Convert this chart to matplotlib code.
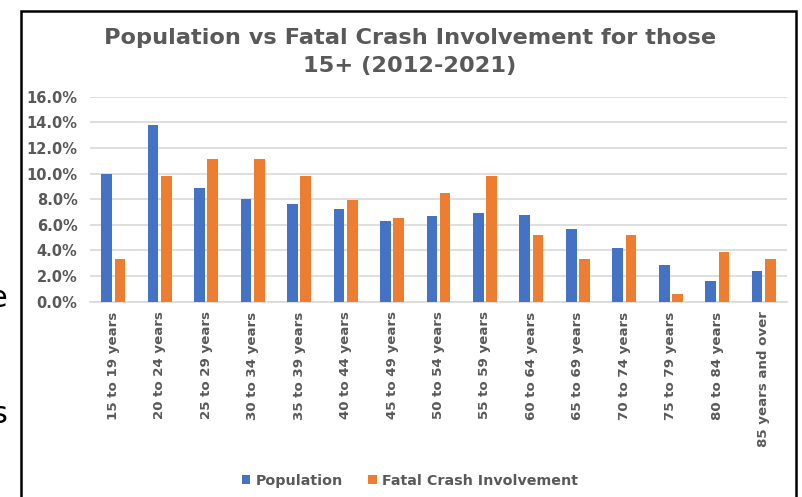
import numpy as np
import matplotlib.pyplot as plt
from matplotlib.patches import Rectangle
from matplotlib.ticker import FuncFormatter

# values (percent of total)
ages = ['15 to 19 years', '20 to 24 years', '25 to 29 years', '30 to 34 years',
        '35 to 39 years', '40 to 44 years', '45 to 49 years', '50 to 54 years',
        '55 to 59 years', '60 to 64 years', '65 to 69 years', '70 to 74 years',
        '75 to 79 years', '80 to 84 years', '85 years and over']
population = [10.0, 13.8, 8.9, 8.0, 7.6, 7.2, 6.3, 6.7, 6.9, 6.8, 5.7, 4.2, 2.9, 1.6, 2.4]
fatal = [3.3, 9.8, 11.1, 11.1, 9.8, 7.9, 6.5, 8.5, 9.8, 5.2, 3.3, 5.2, 0.6, 3.9, 3.3]

grey = '#595959'
W, H = 802, 497
fig = plt.figure(figsize=(W / 100, H / 100), dpi=100)
fig.patch.set_facecolor('white')

ax = fig.add_axes([90 / W, (H - 301.7) / H, (787 - 90) / W, (301.7 - 96.7) / H])
x = np.arange(len(ages))
bw = 0.23
ax.bar(x - 0.143, population, bw, color='#4472C4', label='Population', zorder=3)
ax.bar(x + 0.143, fatal, bw, color='#ED7D31', label='Fatal Crash Involvement', zorder=3)

ax.set_xlim(-0.5, len(ages) - 0.5)
ax.set_ylim(0, 16)
ax.set_yticks(np.arange(0, 17, 2))
ax.yaxis.set_major_formatter(FuncFormatter(lambda v, p: f'{v:.1f}%'))
ax.grid(axis='y', color='#D9D9D9', lw=1.2, zorder=0)
for s in ['top', 'right', 'left']:
    ax.spines[s].set_visible(False)
ax.spines['bottom'].set_color('#D9D9D9')
ax.spines['bottom'].set_linewidth(1.2)
ax.set_xticks(x)
ax.set_xticklabels(ages, rotation=90, fontsize=9.6, fontweight='bold', color=grey)
ax.tick_params(axis='both', length=0)
ax.tick_params(axis='x', pad=7)
ax.tick_params(axis='y', pad=9, labelsize=10.5, labelcolor=grey)
for t in ax.get_yticklabels():
    t.set_fontweight('bold')

fig.text(410 / W, 1 - 28 / H, 'Population vs Fatal Crash Involvement for those\n15+ (2012-2021)',
         ha='center', va='top', fontsize=16.2, fontweight='bold', color=grey, linespacing=1.5)

leg = fig.legend(loc='center', bbox_to_anchor=(410 / W, 1 - 481 / H), ncol=2, frameon=False,
                 prop={'weight': 'bold', 'size': 10.3}, labelcolor=grey,
                 handlelength=0.6, handleheight=0.6, handletextpad=0.4, columnspacing=1.75)

# black frame around the chart
fig.patches.append(Rectangle((20.5 / W, -0.05), (796 - 20.5) / W, 1.05 - 11 / H,
                             transform=fig.transFigure, fill=False, ec='black', lw=1.8))
# letters cut off at the left edge of the screenshot
fig.text(7 / W, 1 - 307 / H, 'e', ha='right', va='baseline', fontsize=22, color='black')
fig.text(7 / W, 1 - 423 / H, 's', ha='right', va='baseline', fontsize=22, color='black')

plt.savefig('out.png', dpi=100, facecolor='white')
